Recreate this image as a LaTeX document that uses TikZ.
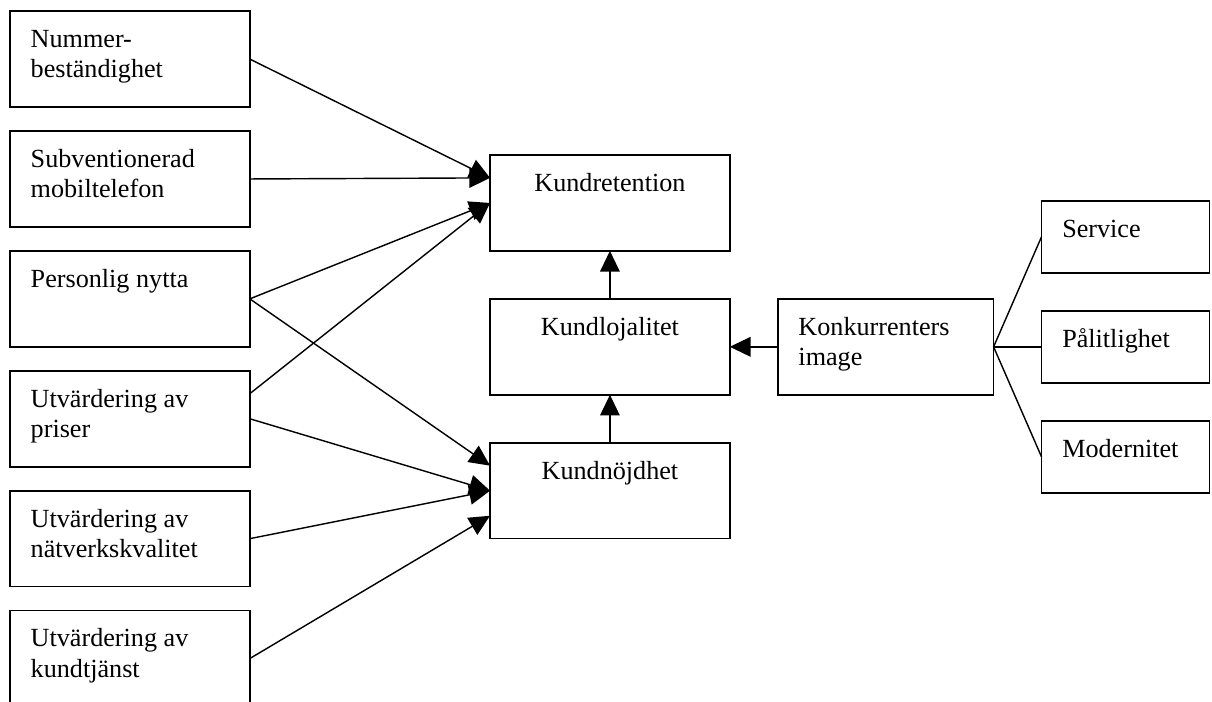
\documentclass[tikz,border=0pt]{standalone}
\usepackage{fontspec}
\setmainfont{Liberation Serif}
\usetikzlibrary{arrows.meta,positioning}
\tikzset{
  factorbox/.style={
    draw=black,fill=white,line width=.75pt,outer sep=0pt,
    minimum width=110pt,minimum height=44pt,inner sep=0pt
  },
  centerbox/.style={factorbox},
  imagebox/.style={factorbox,minimum width=99pt},
  smallbox/.style={factorbox,minimum width=77pt,minimum height=33pt},
  textbase/.style={
    inner sep=0pt,yshift=-5.5pt,
    font=\fontsize{12}{13.8}\selectfont,
    execute at begin node={\rule{0pt}{11pt}}
  },
  boxtext/.style={textbase,anchor=north west,text width=90pt,align=flush left,xshift=9.3pt},
  centertext/.style={textbase,anchor=north,text width=110pt,align=flush center},
  arrow/.style={-{Triangle[length=9.5pt,width=9pt]},draw=black,line width=.65pt},
  link/.style={draw=black,line width=.65pt}
}

\begin{document}
\begin{tikzpicture}[node distance=11pt]
\useasboundingbox (0,0) rectangle (556pt,-322pt);

% factors on the left
\node[factorbox,label={[boxtext]north west:Nummer-\\beständighet}] (nummer) at (59.6pt,-27.1pt) {};
\node[factorbox,below=of nummer,label={[boxtext]north west:Subventionerad\\mobiltelefon}] (subv) {};
\node[factorbox,below=of subv,label={[boxtext]north west:Personlig nytta}] (personlig) {};
\node[factorbox,below=of personlig,label={[boxtext]north west:Utvärdering av\\priser}] (priser) {};
\node[factorbox,below=of priser,label={[boxtext]north west:Utvärdering av\\nätverkskvalitet}] (natverk) {};
\node[factorbox,below=of natverk,label={[boxtext]north west:Utvärdering av\\kundtjänst}] (kundtjanst) {};

% middle chain
\node[centerbox,label={[centertext]north:Kundretention}] (retention) at (279.8pt,-93.1pt) {};
\node[centerbox,below=22pt of retention,label={[centertext]north:Kundlojalitet}] (lojalitet) {};
\node[centerbox,below=22pt of lojalitet,label={[centertext]north:Kundnöjdhet}] (nojdhet) {};

% image and its parts
\node[imagebox,right=22pt of lojalitet,label={[boxtext]north west:Konkurrenters\\image}] (image) {};
\node[smallbox,right=22pt of image,label={[boxtext]north west:Pålitlighet}] (palitlighet) {};
\node[smallbox,above=17.5pt of palitlighet,label={[boxtext]north west:Service}] (service) {};
\node[smallbox,below=17.5pt of palitlighet,label={[boxtext]north west:Modernitet}] (modernitet) {};

\draw[arrow] (nummer.east) -- ([yshift=11.5pt]retention.west);
\draw[arrow] (subv.east) -- ([yshift=11.5pt]retention.west);
\draw[arrow] (personlig.east) -- (retention.west);
\draw[arrow] ([yshift=11.5pt]priser.east) -- (retention.west);
\draw[arrow] (personlig.east) -- ([yshift=11.5pt]nojdhet.west);
\draw[arrow] (priser.east) -- (nojdhet.west);
\draw[arrow] (natverk.east) -- (nojdhet.west);
\draw[arrow] (kundtjanst.east) -- ([yshift=-11.5pt]nojdhet.west);

\draw[arrow] (nojdhet) -- (lojalitet);
\draw[arrow] (lojalitet) -- (retention);
\draw[arrow] (image) -- (lojalitet);

\draw[link] (image.east) -- (service.west);
\draw[link] (image.east) -- (palitlighet.west);
\draw[link] (image.east) -- (modernitet.west);
\end{tikzpicture}
\end{document}
